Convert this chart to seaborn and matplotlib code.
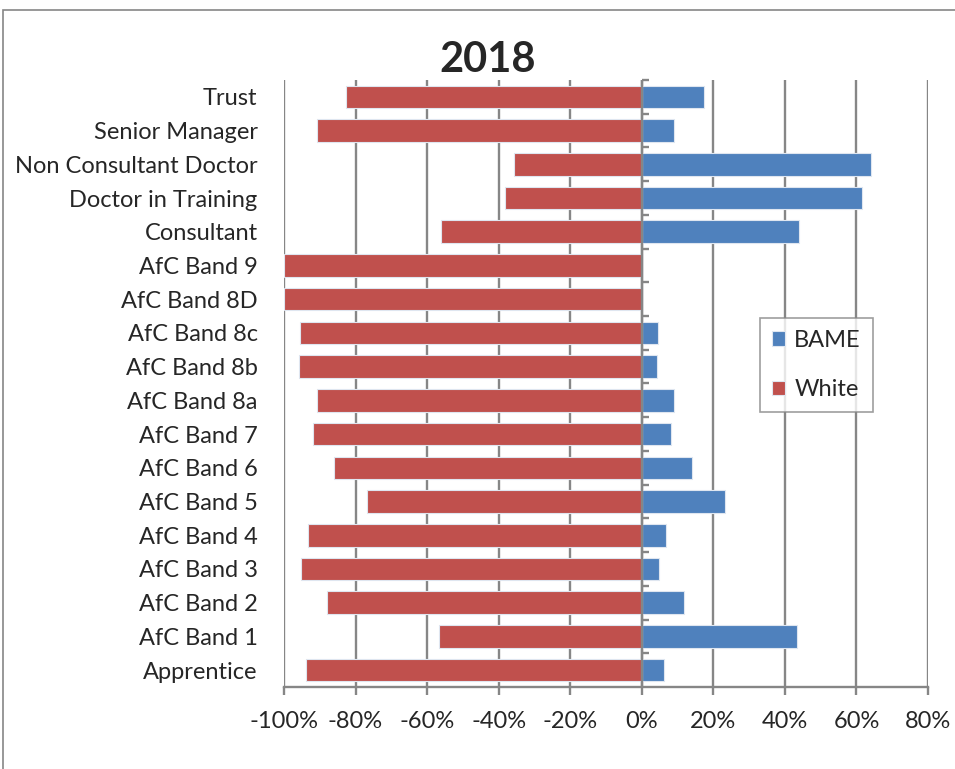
import pandas as pd
import matplotlib.pyplot as plt
import matplotlib.ticker as mticker
from matplotlib.patches import Rectangle
import seaborn as sns

# values (share of staff, %)
categories = ['Trust', 'Senior Manager', 'Non Consultant Doctor', 'Doctor in Training',
              'Consultant', 'AfC Band 9', 'AfC Band 8D', 'AfC Band 8c', 'AfC Band 8b',
              'AfC Band 8a', 'AfC Band 7', 'AfC Band 6', 'AfC Band 5', 'AfC Band 4',
              'AfC Band 3', 'AfC Band 2', 'AfC Band 1', 'Apprentice']
bame = [17.4, 9.0, 64.2, 61.6, 43.9, 0, 0, 4.4, 4.2,
        9.1, 8.1, 13.9, 23.2, 6.7, 4.7, 11.9, 43.3, 6.1]
white = [-82.6, -90.9, -35.6, -38.2, -56.0, -100, -100, -95.6, -95.7,
         -90.9, -91.9, -86.0, -76.8, -93.2, -95.3, -88.0, -56.6, -93.9]
xticks = [-100, -80, -60, -40, -20, 0, 20, 40, 60, 80]

df = pd.concat([
    pd.DataFrame({'cat': categories, 'value': bame, 'group': 'BAME'}),
    pd.DataFrame({'cat': categories, 'value': white, 'group': 'White'}),
])

sns.set_theme(style='white')
plt.rcParams['font.family'] = ['Lato', 'DejaVu Sans']

grey = '#868686'
fig = plt.figure(figsize=(9.55, 7.69), dpi=100)
W, H = 955, 769
ax = fig.add_axes([284 / W, 1 - 687 / H, (928 - 284) / W, (687 - 80) / H])

sns.barplot(data=df, y='cat', x='value', hue='group', hue_order=['BAME', 'White'],
            order=categories, dodge=False, palette=['#4F81BD', '#C0504D'],
            saturation=1, width=0.67, edgecolor='#dfe6f0', linewidth=0.8,
            ax=ax, zorder=3)

ax.set_xlim(-100, 80)
ax.set_ylim(len(categories) - 0.5, -0.5)
ax.set_xticks(xticks)
ax.xaxis.set_major_formatter(mticker.FuncFormatter(lambda v, p: f'{v:.0f}%'))
ax.set_xlabel('')
ax.set_ylabel('')
for v in xticks:
    ax.axvline(v, color=grey, lw=1.7, zorder=1)
ax.axvline(0, color=grey, lw=1.7, zorder=4)

for s in ['top', 'right', 'left']:
    ax.spines[s].set_visible(False)
ax.spines['bottom'].set_color(grey)
ax.spines['bottom'].set_linewidth(1.7)
ax.tick_params(axis='x', direction='out', length=6, width=1.7, color=grey,
               labelsize=17, pad=11, bottom=True)
ax.tick_params(axis='y', length=0, labelsize=17, pad=19)

# small category boundary ticks on the 0% axis
sec = ax.secondary_yaxis(100 / 180)
sec.set_yticks([i - 0.5 for i in range(len(categories))])
sec.set_yticklabels([])
sec.tick_params(direction='out', length=5, width=1.7, color=grey)
sec.spines['left'].set_visible(False)
sec.spines['right'].set_visible(False)

leg = ax.legend(loc='upper left', bbox_to_anchor=(760 / W, 1 - 318 / H),
                bbox_transform=fig.transFigure, fontsize=17, frameon=True,
                fancybox=False, handlelength=0.55, handleheight=0.55,
                labelspacing=1.2, borderpad=0.5, handletextpad=0.4,
                borderaxespad=0)
leg.get_frame().set_edgecolor(grey)
leg.get_frame().set_linewidth(1.2)

fig.text(488 / W, 1 - 60 / H, '2018', ha='center', va='center',
         fontsize=30, fontweight='bold')

fig.patches.append(Rectangle((3 / W, -0.1), 1.2, 1 - 10 / H + 0.1,
                             transform=fig.transFigure, fill=False,
                             edgecolor=grey, lw=1.2))

fig.savefig('out.png', dpi=100)
